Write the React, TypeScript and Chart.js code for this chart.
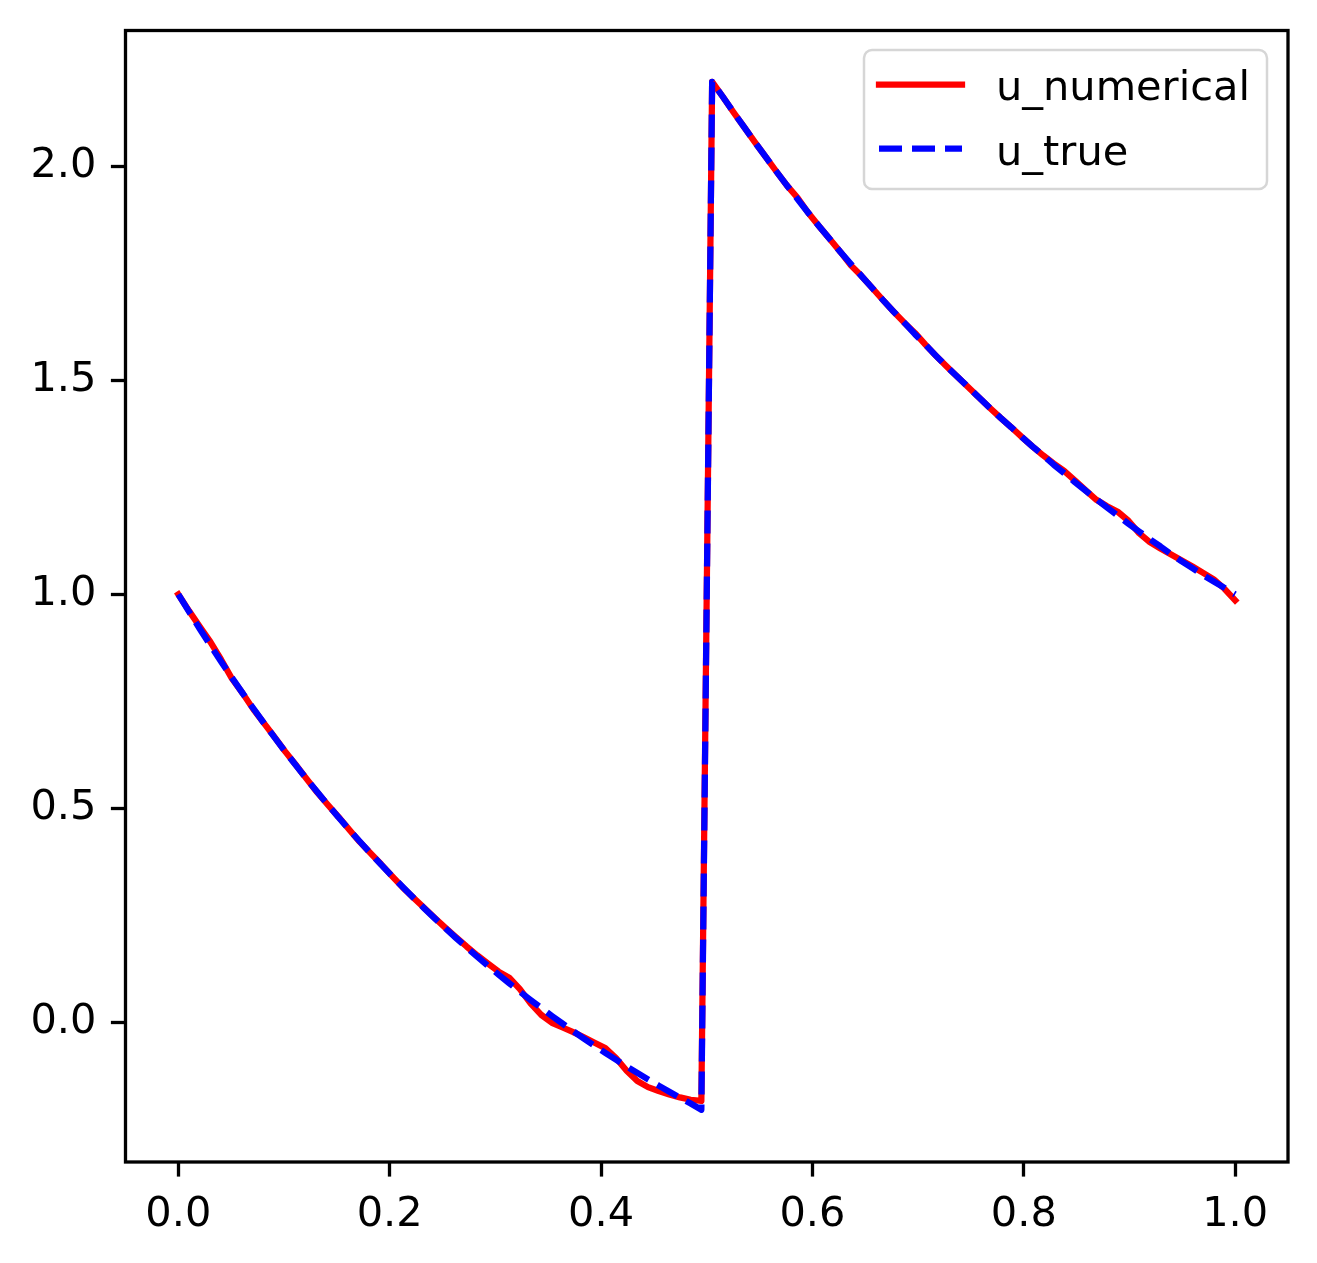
import React, { useEffect, useRef } from 'react';
import { Chart, registerables } from 'chart.js';

Chart.register(...registerables);

const xValues = [
  0.0, 0.0101, 0.0202, 0.0303, 0.0404, 0.0505, 0.0606, 0.0707, 0.0808, 0.0909,
  0.101, 0.1111, 0.1212, 0.1313, 0.1414, 0.1515, 0.1616, 0.1717, 0.1818, 0.1919,
  0.202, 0.2121, 0.2222, 0.2323, 0.2424, 0.2525, 0.2626, 0.2727, 0.2828, 0.2929,
  0.303, 0.3131, 0.3232, 0.3333, 0.3434, 0.3535, 0.3636, 0.3737, 0.3838, 0.3939,
  0.404, 0.4141, 0.4242, 0.4343, 0.4444, 0.4545, 0.4646, 0.4747, 0.4848, 0.4949,
  0.5051, 0.5152, 0.5253, 0.5354, 0.5455, 0.5556, 0.5657, 0.5758, 0.5859, 0.596,
  0.6061, 0.6162, 0.6263, 0.6364, 0.6465, 0.6566, 0.6667, 0.6768, 0.6869, 0.697,
  0.7071, 0.7172, 0.7273, 0.7374, 0.7475, 0.7576, 0.7677, 0.7778, 0.7879, 0.798,
  0.8081, 0.8182, 0.8283, 0.8384, 0.8485, 0.8586, 0.8687, 0.8788, 0.8889, 0.899,
  0.9091, 0.9192, 0.9293, 0.9394, 0.9495, 0.9596, 0.9697, 0.9798, 0.9899, 1.0,
];

const uNumerical = [
  1.0, 0.9613, 0.9246, 0.8888, 0.8478, 0.8038, 0.7696, 0.7322, 0.6996, 0.6669,
  0.6329, 0.6016, 0.5691, 0.5374, 0.5083, 0.4799, 0.4502, 0.4212, 0.3948, 0.369,
  0.3418, 0.3153, 0.2913, 0.2679, 0.2441, 0.2208, 0.1985, 0.1768, 0.1561, 0.1369,
  0.1181, 0.1039, 0.0771, 0.0438, 0.0169, -0.0016, -0.0126, -0.0233, -0.0355, -0.0483,
  -0.0607, -0.0838, -0.1135, -0.1378, -0.152, -0.161, -0.169, -0.176, -0.1815, -0.184,
  2.198, 2.163, 2.127, 2.092, 2.057, 2.023, 1.989, 1.956, 1.927, 1.892,
  1.861, 1.831, 1.801, 1.769, 1.744, 1.716, 1.688, 1.661, 1.635, 1.611,
  1.583, 1.557, 1.532, 1.508, 1.484, 1.46, 1.436, 1.413, 1.391, 1.368,
  1.346, 1.325, 1.306, 1.288, 1.266, 1.243, 1.221, 1.206, 1.193, 1.172,
  1.143, 1.122, 1.107, 1.093, 1.079, 1.065, 1.05, 1.035, 1.013, 0.986,
];

const uTrue = [
  1.0, 0.9593, 0.9196, 0.8808, 0.8428, 0.8058, 0.7696, 0.7342, 0.6996, 0.6659,
  0.6329, 0.6006, 0.5691, 0.5384, 0.5083, 0.4789, 0.4502, 0.4222, 0.3948, 0.368,
  0.3418, 0.3163, 0.2913, 0.2669, 0.2431, 0.2198, 0.197, 0.1748, 0.1531, 0.1319,
  0.1111, 0.0909, 0.0711, 0.0518, 0.0329, 0.0144, -0.0036, -0.0213, -0.0385, -0.0553,
  -0.0717, -0.0878, -0.1035, -0.1188, -0.1338, -0.1484, -0.1627, -0.1767, -0.1903, -0.205,
  2.198, 2.163, 2.127, 2.092, 2.057, 2.023, 1.989, 1.956, 1.924, 1.892,
  1.861, 1.831, 1.801, 1.772, 1.744, 1.716, 1.688, 1.661, 1.635, 1.608,
  1.583, 1.557, 1.532, 1.508, 1.484, 1.46, 1.436, 1.413, 1.391, 1.368,
  1.346, 1.325, 1.303, 1.283, 1.262, 1.242, 1.222, 1.203, 1.184, 1.165,
  1.147, 1.129, 1.112, 1.094, 1.077, 1.061, 1.045, 1.03, 1.015, 1.0,
];

const xTicks = [0.0, 0.2, 0.4, 0.6, 0.8, 1.0];
const yTicks = [0.0, 0.5, 1.0, 1.5, 2.0];
const seriesLabels = ['u_numerical', 'u_true'];

const FONT = 'DejaVu Sans';
const FONT_SIZE = 41.5;

export default function App() {
  const ref = useRef<HTMLCanvasElement>(null);

  useEffect(() => {
    const canvas = ref.current;
    if (!canvas) return;

    const frameLegendPlugin = {
      id: 'frameLegend',
      afterDraw(chart: any) {
        const ctx = chart.ctx as CanvasRenderingContext2D;
        const a = chart.chartArea;
        ctx.save();
        ctx.strokeStyle = '#000';
        ctx.lineWidth = 3.3;
        ctx.lineJoin = 'miter';
        ctx.setLineDash([]);
        ctx.strokeRect(a.left, a.top, a.right - a.left, a.bottom - a.top);

        ctx.beginPath();
        (ctx as any).roundRect(856, 42, 403, 139, 8);
        ctx.fillStyle = 'rgba(255,255,255,0.8)';
        ctx.fill();
        ctx.strokeStyle = '#d6d6d6';
        ctx.lineWidth = 2.5;
        ctx.stroke();

        chart.data.datasets.forEach((ds: any, k: number) => {
          const ly = 76.7 + k * 64;
          ctx.beginPath();
          ctx.moveTo(871, ly);
          ctx.lineTo(954, ly);
          ctx.strokeStyle = ds.borderColor;
          ctx.lineWidth = ds.borderWidth;
          ctx.setLineDash(ds.borderDash || []);
          ctx.lineCap = ds.borderCapStyle || 'butt';
          ctx.stroke();
          ctx.setLineDash([]);
          ctx.fillStyle = '#000';
          ctx.font = `${FONT_SIZE}px "${FONT}"`;
          ctx.textAlign = 'left';
          ctx.textBaseline = 'alphabetic';
          ctx.fillText(ds.label, 988, 92 + k * 65);
        });
        ctx.restore();
      },
    };

    const tickFont = { family: FONT, size: FONT_SIZE };

    const chart = new Chart(canvas, {
      type: 'line',
      data: {
        datasets: [
          {
            label: seriesLabels[0],
            data: xValues.map((x, i) => ({ x, y: uNumerical[i] })),
            borderColor: '#ff0000',
            borderWidth: 6.25,
            borderCapStyle: 'square',
            borderJoinStyle: 'round',
            pointRadius: 0,
            tension: 0,
            fill: false,
            order: 1,
          },
          {
            label: seriesLabels[1],
            data: xValues.map((x, i) => ({ x, y: uTrue[i] })),
            borderColor: '#0000ff',
            borderWidth: 6.25,
            borderDash: [23, 10],
            borderCapStyle: 'butt',
            borderJoinStyle: 'round',
            pointRadius: 0,
            tension: 0,
            fill: false,
            order: 0,
          },
        ],
      },
      options: {
        responsive: false,
        animation: false,
        devicePixelRatio: 1,
        layout: { padding: { top: 22.5, right: 21, left: 0, bottom: 0 } },
        plugins: { legend: { display: false }, tooltip: { enabled: false } },
        scales: {
          x: {
            type: 'linear',
            min: -0.05,
            max: 1.05,
            afterBuildTicks: (s: any) => {
              s.ticks = xTicks.map((v) => ({ value: v }));
            },
            afterFit: (s: any) => {
              s.height = 93;
              s.paddingLeft = 0;
              s.paddingRight = 0;
            },
            grid: {
              drawOnChartArea: false,
              drawTicks: true,
              tickLength: 14.6,
              tickWidth: 3.3,
              tickColor: '#000',
            },
            border: { display: false },
            ticks: {
              autoSkip: false,
              maxRotation: 0,
              padding: 14,
              color: '#000',
              font: tickFont,
              callback: (v: any) => Number(v).toFixed(1),
            },
          },
          y: {
            type: 'linear',
            min: -0.327,
            max: 2.318,
            afterBuildTicks: (s: any) => {
              s.ticks = yTicks.map((v) => ({ value: v }));
            },
            afterFit: (s: any) => {
              s.width = 117.5;
              s.paddingTop = 0;
              s.paddingBottom = 0;
            },
            grid: {
              drawOnChartArea: false,
              drawTicks: true,
              tickLength: 14.6,
              tickWidth: 3.3,
              tickColor: '#000',
            },
            border: { display: false },
            ticks: {
              autoSkip: false,
              padding: 14.5,
              color: '#000',
              font: tickFont,
              callback: (v: any) => Number(v).toFixed(1),
            },
          },
        },
      },
      plugins: [frameLegendPlugin],
    } as any);

    return () => chart.destroy();
  }, []);

  return <canvas ref={ref} width={1301} height={1247} style={{ display: 'block' }} />;
}
